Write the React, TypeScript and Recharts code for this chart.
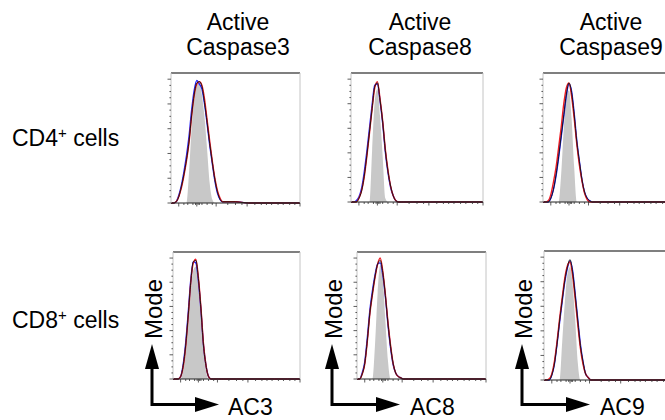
import { ComposedChart, Area, Line, XAxis, YAxis, ReferenceLine } from "recharts";

// fluorescence bins (relative channel, 0-100 across the plot)
const BINS = [0, 2, 4, 6, 8, 10, 12, 14, 16, 18, 20, 22, 24, 26, 28, 30, 32, 34, 36, 38, 40, 50, 60, 70, 80, 90, 100];

const COLUMNS = ["Caspase3", "Caspase8", "Caspase9"];
const AXIS_LABELS = ["AC3", "AC8", "AC9"];
const ROWS = ["CD4", "CD8"];

const X_TICKS = [6, 10, 13, 17, 19, 20, 21, 22, 24, 28, 32, 35, 44, 50, 55, 59, 65, 70, 74, 78, 83, 87, 92, 96, 100];
const X_MAJOR = [6, 20, 35, 59, 100];
const Y_TICKS = [0, 5, 10, 15, 20, 25, 30, 35, 40, 45, 50, 55, 60, 65, 70, 75, 80, 85, 90, 95, 100];
const Y_MAJOR = [0, 20, 40, 60, 80, 100];

// % of mode, CD4+ cells
const CD4_AC3_CTRL = [0, 0, 0, 0, 0, 0, 0, 25, 61, 84, 95, 97, 87, 69, 43, 16, 3, 0, 0, 0, 0, 0, 0, 0, 0, 0, 0];
const CD4_AC3_BLACK = [0, 0, 1, 5, 13, 23, 35, 50, 71, 88, 97, 98, 94, 81, 65, 48, 33, 19, 9, 3, 1, 1, 0, 0, 0, 0, 0];
const CD4_AC3_BLUE = [0, 0, 1, 6, 14, 25, 38, 54, 75, 91, 99, 96, 92, 80, 64, 47, 32, 18, 8, 3, 1, 1, 0, 0, 0, 0, 0];
const CD4_AC3_RED = [0, 0, 1, 5, 12, 22, 34, 49, 70, 87, 96, 98, 95, 84, 67, 50, 34, 20, 10, 4, 1, 1, 0, 0, 0, 0, 0];

const CD4_AC8_CTRL = [0, 0, 0, 0, 0, 0, 0, 0, 42, 82, 92, 70, 37, 3, 0, 0, 0, 0, 0, 0, 0, 0, 0, 0, 0, 0, 0];
const CD4_AC8_BLACK = [0, 0, 0, 3, 9, 21, 38, 57, 76, 94, 97, 83, 65, 42, 25, 13, 5, 1, 0, 0, 0, 0, 0, 0, 0, 0, 0];
const CD4_AC8_BLUE = [0, 0, 1, 4, 11, 24, 41, 60, 79, 95, 96, 82, 64, 41, 24, 12, 5, 1, 0, 0, 0, 0, 0, 0, 0, 0, 0];
const CD4_AC8_RED = [0, 0, 0, 3, 9, 20, 37, 56, 76, 93, 98, 84, 66, 43, 26, 13, 5, 1, 0, 0, 0, 0, 0, 0, 0, 0, 0];

const CD4_AC9_CTRL = [0, 0, 0, 0, 0, 0, 0, 23, 60, 86, 91, 68, 28, 0, 0, 0, 0, 0, 0, 0, 0, 0, 0, 0, 0, 0, 0];
const CD4_AC9_BLACK = [0, 0, 0, 3, 10, 22, 37, 54, 71, 88, 97, 89, 71, 49, 33, 18, 8, 3, 1, 0, 0, 0, 0, 0, 0, 0, 0];
const CD4_AC9_BLUE = [0, 0, 0, 3, 10, 21, 36, 53, 70, 87, 96, 90, 72, 50, 33, 18, 8, 3, 1, 0, 0, 0, 0, 0, 0, 0, 0];
const CD4_AC9_RED = [0, 0, 1, 6, 16, 28, 44, 61, 80, 93, 97, 86, 68, 47, 30, 17, 7, 2, 0, 0, 0, 0, 0, 0, 0, 0, 0];

// % of mode, CD8+ cells
const CD8_AC3_CTRL = [0, 0, 0, 0, 8, 26, 48, 74, 90, 93, 80, 55, 27, 7, 0, 0, 0, 0, 0, 0, 0, 0, 0, 0, 0, 0, 0];
const CD8_AC3_BLACK = [0, 0, 0, 2, 11, 28, 53, 80, 97, 98, 83, 58, 28, 11, 2, 0, 0, 0, 0, 0, 0, 0, 0, 0, 0, 0, 0];
const CD8_AC3_BLUE = [0, 0, 0, 2, 12, 30, 55, 82, 97, 96, 81, 57, 28, 11, 2, 0, 0, 0, 0, 0, 0, 0, 0, 0, 0, 0, 0];
const CD8_AC3_RED = [0, 0, 0, 2, 10, 27, 52, 80, 96, 99, 84, 59, 29, 11, 2, 0, 0, 0, 0, 0, 0, 0, 0, 0, 0, 0, 0];

const CD8_AC8_CTRL = [0, 0, 0, 0, 0, 0, 0, 29, 71, 94, 84, 48, 15, 0, 0, 0, 0, 0, 0, 0, 0, 0, 0, 0, 0, 0, 0];
const CD8_AC8_BLACK = [0, 0, 4, 13, 32, 55, 71, 85, 95, 98, 88, 69, 46, 27, 13, 5, 2, 1, 0, 0, 0, 0, 0, 0, 0, 0, 0];
const CD8_AC8_BLUE = [0, 0, 5, 14, 34, 57, 73, 86, 95, 96, 86, 68, 45, 26, 12, 5, 2, 1, 0, 0, 0, 0, 0, 0, 0, 0, 0];
const CD8_AC8_RED = [0, 0, 4, 12, 31, 54, 70, 84, 95, 100, 89, 70, 47, 28, 13, 5, 2, 1, 0, 0, 0, 0, 0, 0, 0, 0, 0];

const CD8_AC9_CTRL = [0, 0, 0, 0, 0, 0, 0, 31, 63, 86, 92, 78, 49, 14, 0, 0, 0, 0, 0, 0, 0, 0, 0, 0, 0, 0, 0];
const CD8_AC9_BLACK = [0, 0, 0, 4, 13, 29, 48, 65, 81, 92, 98, 88, 69, 48, 28, 15, 5, 2, 0, 0, 0, 0, 0, 0, 0, 0, 0];
const CD8_AC9_BLUE = [0, 0, 0, 4, 13, 29, 47, 64, 80, 91, 97, 89, 70, 49, 29, 15, 5, 2, 0, 0, 0, 0, 0, 0, 0, 0, 0];
const CD8_AC9_RED = [0, 0, 1, 5, 15, 31, 50, 67, 83, 93, 96, 85, 66, 45, 26, 13, 5, 2, 0, 0, 0, 0, 0, 0, 0, 0, 0];

const table = (ctrl: number[], s1: number[], s2: number[], s3: number[]) =>
  BINS.map((x, i) => ({ x, ctrl: ctrl[i], s1: s1[i], s2: s2[i], s3: s3[i] }));

const PANELS = [
  [
    table(CD4_AC3_CTRL, CD4_AC3_BLACK, CD4_AC3_BLUE, CD4_AC3_RED),
    table(CD4_AC8_CTRL, CD4_AC8_BLACK, CD4_AC8_BLUE, CD4_AC8_RED),
    table(CD4_AC9_CTRL, CD4_AC9_BLACK, CD4_AC9_BLUE, CD4_AC9_RED),
  ],
  [
    table(CD8_AC3_CTRL, CD8_AC3_BLACK, CD8_AC3_BLUE, CD8_AC3_RED),
    table(CD8_AC8_CTRL, CD8_AC8_BLACK, CD8_AC8_BLUE, CD8_AC8_RED),
    table(CD8_AC9_CTRL, CD8_AC9_BLACK, CD8_AC9_BLUE, CD8_AC9_RED),
  ],
];

// plot frames in page pixels: [left, top, width, height]
const FRAMES = [
  [[171, 73, 129, 130], [351, 73, 132, 129], [543, 73, 130, 129]],
  [[173, 252, 127, 127], [357, 252, 129, 127], [544, 251, 130, 129]],
];

const TITLE_X = [238, 420, 611];
const ARROWS = [
  { x: 152, tip: 219, label: 228, mode: 162 },
  { x: 332, tip: 400, label: 410, mode: 342 },
  { x: 522, tip: 590, label: 600, mode: 532 },
];
const ROW_BASELINE = [146, 328];

const FONT = "'Liberation Sans', Arial, Helvetica, sans-serif";

const xTick = (props: any) => {
  const { x, y, payload } = props;
  const len = X_MAJOR.includes(payload.value) ? 3.5 : 2;
  return <line x1={x} x2={x} y1={y} y2={y + len} stroke="#333" strokeWidth={0.8} />;
};

const yTick = (props: any) => {
  const { x, y, payload } = props;
  const len = Y_MAJOR.includes(payload.value) ? 3.5 : 1.6;
  return <line x1={x - len} x2={x} y1={y} y2={y} stroke="#333" strokeWidth={0.8} />;
};

function Histogram({ rows, w, h }: { rows: any[]; w: number; h: number }) {
  return (
    <ComposedChart width={w + 7} height={h + 7} data={rows} margin={{ top: 2, right: 2, bottom: 0, left: 0 }}>
      <XAxis
        dataKey="x"
        type="number"
        domain={[0, 100]}
        ticks={X_TICKS}
        interval={0}
        height={5}
        tickSize={0}
        tickMargin={0}
        tickLine={false}
        tick={xTick}
        axisLine={{ stroke: "#222", strokeWidth: 1 }}
      />
      <YAxis
        type="number"
        domain={[0, 105]}
        ticks={Y_TICKS}
        interval={0}
        width={5}
        tickSize={0}
        tickMargin={0}
        tickLine={false}
        tick={yTick}
        axisLine={{ stroke: "#c4c4c4", strokeWidth: 1 }}
      />
      <Area dataKey="ctrl" type="monotone" fill="#c8c8c8" fillOpacity={1} stroke="none" isAnimationActive={false} />
      <Line dataKey="s2" type="monotone" stroke="#1f1fff" strokeWidth={1.4} dot={false} isAnimationActive={false} />
      <Line dataKey="s3" type="monotone" stroke="#ee1c24" strokeWidth={1.4} dot={false} isAnimationActive={false} />
      <Line dataKey="s1" type="monotone" stroke="#111" strokeWidth={0.9} dot={false} isAnimationActive={false} />
      <ReferenceLine y={105} stroke="#555" strokeWidth={1.3} ifOverflow="visible" />
      <ReferenceLine x={100} stroke="#c4c4c4" strokeWidth={1} ifOverflow="visible" />
    </ComposedChart>
  );
}

export default function App() {
  return (
    <div
      style={{
        position: "absolute",
        left: 0,
        top: 0,
        width: 665,
        height: 420,
        overflow: "hidden",
        background: "#fff",
        fontFamily: FONT,
      }}
    >
      <svg width={665} height={420} style={{ position: "absolute", left: 0, top: 0 }} fontFamily={FONT}>
        {COLUMNS.map((c, i) => (
          <g key={c} fontSize={23} textAnchor="middle" fill="#000">
            <text x={TITLE_X[i]} y={30}>Active</text>
            <text x={TITLE_X[i]} y={55}>{c}</text>
          </g>
        ))}
        {ROWS.map((r, i) => (
          <text key={r} x={12} y={ROW_BASELINE[i]} fontSize={23} fill="#000">
            {r}
            <tspan fontSize={15} dy={-8}>+</tspan>
            <tspan dy={8}> cells</tspan>
          </text>
        ))}
        {ARROWS.map((a, i) => (
          <g key={i}>
            <text
              transform={`translate(${a.mode},309) rotate(-90)`}
              textAnchor="middle"
              fontSize={24}
              fill="#000"
            >
              Mode
            </text>
            <polyline
              points={`${a.x},368 ${a.x},404.5 ${a.tip - 23},404.5`}
              fill="none"
              stroke="#000"
              strokeWidth={3}
            />
            <polygon points={`${a.x},344 ${a.x - 7},369 ${a.x + 7},369`} fill="#000" />
            <polygon points={`${a.tip},404.5 ${a.tip - 24},397 ${a.tip - 24},412`} fill="#000" />
            <text x={a.label} y={415} fontSize={23} fill="#000">
              {AXIS_LABELS[i]}
            </text>
          </g>
        ))}
      </svg>
      {PANELS.map((row, r) =>
        row.map((rows, c) => {
          const [left, top, w, h] = FRAMES[r][c];
          return (
            <div key={`${r}-${c}`} style={{ position: "absolute", left: left - 5, top: top - 2 }}>
              <Histogram rows={rows} w={w} h={h} />
            </div>
          );
        })
      )}
    </div>
  );
}
